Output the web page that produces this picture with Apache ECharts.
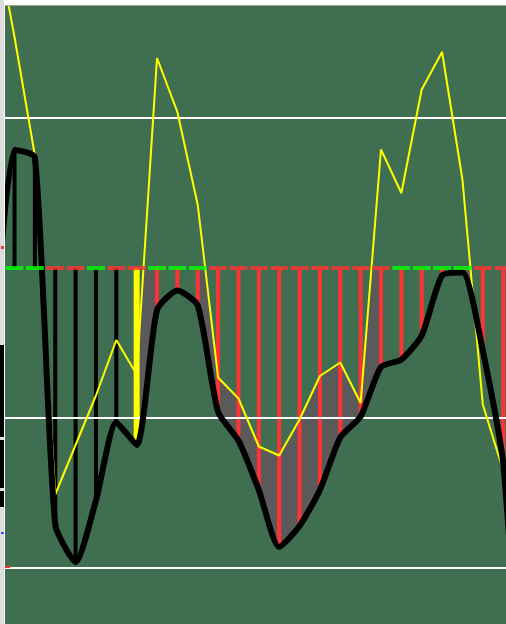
<!DOCTYPE html>
<html><head><meta charset="utf-8">
<script src="https://cdn.jsdelivr.net/npm/echarts/dist/echarts.min.js"></script>
<style>html,body{margin:0;padding:0;background:#ffffff}#c{width:506px;height:624px}</style>
</head><body><div id="c"></div>
<script>
// ---- data ----
const days = [-1,0,1,2,3,4,5,6,7,8,9,10,11,12,13,14,15,16,17,18,19,20,21,22,23,24,25];
const blackLine = [-51,78.7,74,-171,-196,-155,-103,-118,-28,-15,-25,-96,-115,-148,-186,-172,-148,-113,-99,-66,-61,-45,-5,-3,-55,-130,-330];
const yellowLine = [227,154,75,-151,-118,-85,-48,-71,140,104,42,-73,-87,-119,-125,-101,-72,-63,-90,79,50,119,144,59,-91,-135,-180];
// stick colour per day (k = black, y = yellow, r = red); days 0..24
const stickKind = ['k','k','k','k','k','k','y','r','r','r','r','r','r','r','r','r','r','r','r','r','r','r','r','r','r'];
// zero-line dash colour per day (g = green, r = red); days 0..24
const zeroKind = ['g','g','r','r','g','r','r','g','g','g','r','r','r','r','r','r','r','r','r','g','g','g','g','r','r'];
const levelLines = [100,-100,-200];
const bandStartDay = 6;

// ---- build ----
const X_MIN = -0.467, X_MAX = 24.14, Y_MIN = -237.33, Y_MAX = 174.67;
const C = {bg:'#406e50', red:'#ff3333', green:'#00ff00', yellow:'#ffff00', black:'#000000', grey:'#5a5a5a'};
const idx = d => days.indexOf(d);
const val = (arr, d) => arr[idx(d)];

const blackData = days.map((d,i)=>[d, blackLine[i]]);
const yellowData = days.map((d,i)=>[d, yellowLine[i]]);
function sticks(kind){
  const out=[];
  stickKind.forEach((k,d)=>{ if(k===kind) out.push([d, val(blackLine,d)]); });
  return out;
}
// band segments: from bandStartDay on, where the yellow line is below zero at either end
const bandDays = days.filter(d=>d>=bandStartDay && d<days[days.length-1] &&
  Math.min(val(yellowLine,d), val(yellowLine,d+1)) < 0);
const zeroData = zeroKind.map((k,d)=>({value:[d,0], itemStyle:{color:k==='g'?C.green:C.red}}));

// grey band: between the black line and min(yellow, 0), where the black line is lower
function renderBand(params, api){
  const d = api.value(0);
  const b0 = val(blackLine,d), b1 = val(blackLine,d+1);
  const y0 = val(yellowLine,d), y1 = val(yellowLine,d+1);
  const up = [], lo = [];
  const N = 24;
  for(let i=0;i<=N;i++){
    const t = i/N, x = d+t;
    const b = b0+(b1-b0)*t, yy = y0+(y1-y0)*t;
    const u = Math.max(Math.min(yy,0), b);
    up.push(api.coord([x,u])); lo.push(api.coord([x,b]));
  }
  return {type:'polygon', shape:{points:up.concat(lo.reverse())}, style:{fill:C.grey, stroke:null}};
}

const xAx = i => ({type:'value', min:X_MIN, max:X_MAX, show:false, gridIndex:0});
const chart = echarts.init(document.getElementById('c'), null, {renderer:'canvas'});
chart.setOption({
  animation:false,
  backgroundColor:'#ffffff',
  grid:{left:5, right:0, top:6, bottom:0, show:true, backgroundColor:C.bg, borderWidth:0},
  xAxis:[xAx(0), xAx(1), xAx(2)],
  yAxis:{type:'value', min:Y_MIN, max:Y_MAX, show:false, splitLine:{show:false}},
  series:[
    {name:'band', type:'custom', data:bandDays.map(d=>[d]), renderItem:renderBand, clip:true, z:1, silent:true},
    {name:'redSticks', type:'bar', xAxisIndex:0, data:sticks('r'), barWidth:4, itemStyle:{color:C.red}, z:2},
    {name:'levels', type:'line', data:[], z:3, markLine:{silent:true, symbol:'none', label:{show:false}, lineStyle:{color:'#ffffff', width:2, type:'solid'}, data:levelLines.map(v=>({yAxis:v}))}},
    {name:'blackSticks', type:'bar', xAxisIndex:1, data:sticks('k'), barWidth:4, itemStyle:{color:C.black}, z:4},
    {name:'yellowSticks', type:'bar', xAxisIndex:2, data:sticks('y'), barWidth:6, itemStyle:{color:C.yellow}, z:4},
    {name:'yellow', type:'line', data:yellowData, symbol:'none', lineStyle:{color:C.yellow, width:2}, z:6},
    {name:'black', type:'line', data:blackData, symbol:'none', smooth:0.2, lineStyle:{color:C.black, width:6, join:'round'}, z:7},
    {name:'zero', type:'scatter', data:zeroData, symbol:'rect', symbolSize:[18,4], z:8, silent:true}
  ],
  graphic:[
    {type:'rect', shape:{x:0,y:0,width:506,height:5}, style:{fill:'#ffffff'}, z:100},
    {type:'rect', shape:{x:0,y:5,width:506,height:1}, style:{fill:'#a89c8c'}, z:100},
    {type:'rect', shape:{x:0,y:0,width:4,height:624}, style:{fill:'#dcdcdc'}, z:100},
    {type:'rect', shape:{x:4,y:0,width:1,height:624}, style:{fill:'#ffffff'}, z:100},
    {type:'rect', shape:{x:0,y:345,width:4,height:92}, style:{fill:'#000000'}, z:101},
    {type:'rect', shape:{x:0,y:440,width:4,height:48}, style:{fill:'#000000'}, z:101},
    {type:'rect', shape:{x:0,y:491,width:4,height:16}, style:{fill:'#000000'}, z:101},
    {type:'rect', shape:{x:1,y:246,width:3,height:3}, style:{fill:C.red}, z:101},
    {type:'rect', shape:{x:1,y:532,width:3,height:2}, style:{fill:'#3050ff'}, z:101},
    {type:'rect', shape:{x:5,y:566,width:5,height:2}, style:{fill:C.red}, z:101}
  ]
});
</script></body></html>
